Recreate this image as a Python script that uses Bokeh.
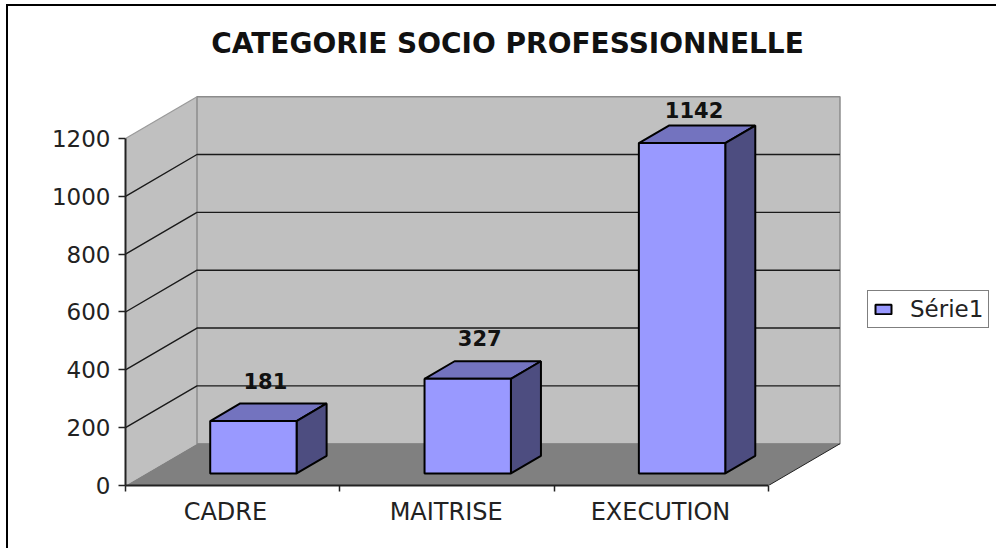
from bokeh.plotting import figure
from bokeh.models import FixedTicker, Legend, LegendItem, ColumnDataSource
from bokeh.core.properties import value
from bokeh.embed import file_html
from bokeh.resources import INLINE

categories = ["CADRE", "MAITRISE", "EXECUTION"]
values = [181, 327, 1142]
y_ticks = [0, 200, 400, 600, 800, 1000, 1200]
series_name = "Série1"
title_text = "CATEGORIE SOCIO PROFESSIONNELLE"

FONT = "DejaVu Sans"
CAT_PX = 214.33
PX_Y = 0.2892
DEPTH_X = 0.3336     # wall depth, category units
DEPTH_Y = 144.5      # wall depth, value units
BAR_W = 0.403
D0, D1 = 0.29, 0.71  # depth span of a bar
FRAME_W = 873
FRAME_H = 479
Y_MAX = 1200
N = len(categories)

p = figure(width=990, height=544, output_backend="svg", toolbar_location=None,
           x_range=(0, FRAME_W / CAT_PX), y_range=(0, FRAME_H / PX_Y),
           min_border_left=117, min_border_right=0, min_border_bottom=65, min_border_top=0,
           outline_line_color=None, background_fill_color="white", border_fill_color="white")
p.styles = {"margin": "4px 0 0 6px", "border-left": "2px solid #000", "border-top": "2px solid #000"}
p.grid.visible = False

# walls and floor
p.patch([0, DEPTH_X, DEPTH_X, 0], [0, DEPTH_Y, Y_MAX + DEPTH_Y, Y_MAX], fill_color="#C0C0C0", line_color=None)
p.patch([DEPTH_X, N + DEPTH_X, N + DEPTH_X, DEPTH_X], [DEPTH_Y, DEPTH_Y, Y_MAX + DEPTH_Y, Y_MAX + DEPTH_Y],
        fill_color="#C0C0C0", line_color="#8C8C8C", line_width=1.5)
p.patch([0, N, N + DEPTH_X, DEPTH_X], [0, 0, DEPTH_Y, DEPTH_Y], fill_color="#808080", line_color=None)
p.line([0, DEPTH_X], [Y_MAX, Y_MAX + DEPTH_Y], line_color="#9A9A9A", line_width=1.2)
p.line([N, N + DEPTH_X], [0, DEPTH_Y], line_color="#222222", line_width=1)

# gridlines
for t in y_ticks[1:-1]:
    p.line([0, DEPTH_X, N + DEPTH_X], [t, t + DEPTH_Y, t + DEPTH_Y], line_color="#1A1A1A", line_width=1.4)

# bars
front_renderer = None
for i, v in enumerate(values):
    x0 = i + 0.5 - BAR_W / 2 + D0 * DEPTH_X
    x1 = x0 + BAR_W
    y0 = D0 * DEPTH_Y
    dx = (D1 - D0) * DEPTH_X
    dy = (D1 - D0) * DEPTH_Y
    y1 = y0 + v
    p.patch([x0, x1, x1 + dx, x0 + dx], [y1, y1, y1 + dy, y1 + dy], fill_color="#7373BF", line_color="black", line_width=2)
    p.patch([x1, x1 + dx, x1 + dx, x1], [y0, y0 + dy, y1 + dy, y1], fill_color="#4D4D80", line_color="black", line_width=2)
    r = p.quad(left=[x0], right=[x1], bottom=[y0], top=[y1], fill_color="#9999FF", line_color="black", line_width=2)
    if front_renderer is None:
        front_renderer = r

# value labels
label_shift = [40, 41, 33]
src = ColumnDataSource(dict(
    x=[i + 0.5 + D0 * DEPTH_X for i in range(N)],
    y=[D0 * DEPTH_Y + v for v in values],
    t=[str(v) for v in values],
    off=[-s for s in label_shift],
))
p.text("x", "y", text="t", source=src, x_offset=12, y_offset="off", text_align="center", text_baseline="alphabetic",
       text_font=value(FONT), text_font_size="21px", text_font_style="bold", text_color="#111111")

# chart title
p.text([382 / CAT_PX], [442 / PX_Y], text=[title_text], text_align="center", text_baseline="middle",
       text_font=value(FONT), text_font_size="28px", text_font_style="bold", text_color="#111111")

# axes
ya = p.yaxis[0]
ya.ticker = FixedTicker(ticks=y_ticks)
ya.bounds = (0, Y_MAX)
ya.major_tick_out = 7
ya.major_tick_in = 0
ya.minor_tick_out = 0
ya.minor_tick_in = 0
ya.axis_line_color = "#222222"
ya.axis_line_width = 2
ya.major_tick_line_color = "#222222"
ya.major_tick_line_width = 1.5
ya.major_label_standoff = 8
ya.major_label_text_font = FONT
ya.major_label_text_font_size = "23px"
ya.major_label_text_color = "#222222"

xa = p.xaxis[0]
label_pos = [0.466, 1.496, 2.496]
xa.ticker = FixedTicker(ticks=label_pos, minor_ticks=list(range(N + 1)))
xa.major_label_overrides = dict(zip(label_pos, categories))
xa.bounds = (0, N)
xa.major_tick_out = 0
xa.major_tick_in = 0
xa.minor_tick_out = 6
xa.minor_tick_in = 0
xa.axis_line_color = "#222222"
xa.axis_line_width = 2
xa.minor_tick_line_color = "#222222"
xa.minor_tick_line_width = 1.5
xa.major_label_standoff = 6
xa.major_label_text_font = FONT
xa.major_label_text_font_size = "24px"
xa.major_label_text_color = "#222222"

legend = Legend(items=[LegendItem(label=series_name, renderers=[front_renderer])],
                location=(742, 157), border_line_color="black", border_line_width=1.5,
                background_fill_color="white", background_fill_alpha=1,
                label_text_font=FONT, label_text_font_size="23px", label_text_color="#222222",
                glyph_width=20, glyph_height=12, padding=5, margin=0, label_standoff=17, spacing=0)
p.add_layout(legend, "center")

open("out.html", "w").write(file_html(p, INLINE))
